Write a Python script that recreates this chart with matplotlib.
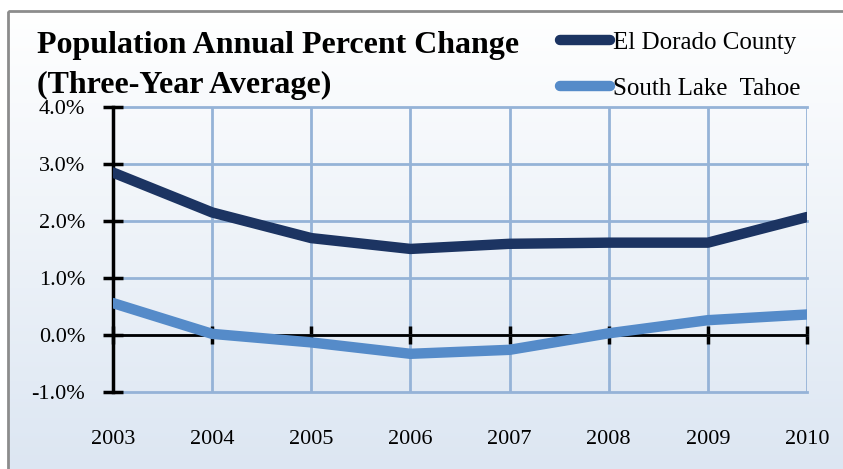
import numpy as np
import matplotlib.pyplot as plt
from matplotlib.patches import Rectangle

# Data (percent)
years = [2003, 2004, 2005, 2006, 2007, 2008, 2009, 2010]
el_dorado = [2.85, 2.15, 1.70, 1.51, 1.60, 1.62, 1.62, 2.07]
south_lake = [0.56, 0.02, -0.13, -0.33, -0.26, 0.03, 0.26, 0.36]
yticks = [-1, 0, 1, 2, 3, 4]

plt.rcParams['font.family'] = ['Liberation Serif', 'DejaVu Serif']

W, H = 843, 469
fig = plt.figure(figsize=(W / 100, H / 100), dpi=100)

# background: white -> pale blue gradient inside a grey frame
bg = fig.add_axes([0, 0, 1, 1], zorder=-10)
bg.set_xlim(0, W)
bg.set_ylim(H, 0)
bg.axis('off')
grad = np.linspace(0, 1, 256).reshape(-1, 1)
top = np.array([1.0, 1.0, 1.0])
bot = np.array([0xdc, 0xe6, 0xf2]) / 255
img = top + (bot - top) * grad[..., None]
bg.imshow(img, extent=(8, W + 5, H + 5, 11), aspect='auto', interpolation='bilinear')
bg.add_patch(Rectangle((8, 11), W, H, fill=False, edgecolor='#8c8c8c', lw=2))

ax = fig.add_axes([113 / W, 1 - 392 / H, (807 - 113) / W, (392 - 107) / H])
ax.patch.set_alpha(0)

ax.plot(years, el_dorado, color='#1c3462', lw=7.5, solid_capstyle='round',
        solid_joinstyle='round', label='El Dorado County', zorder=4)
ax.plot(years, south_lake, color='#558bc9', lw=7.5, solid_capstyle='round',
        solid_joinstyle='round', label='South Lake  Tahoe', zorder=3)

ax.set_xlim(2003, 2010)
ax.set_ylim(-1, 4)
ax.set_xticks(years)
ax.set_yticks(yticks)
ax.set_yticklabels([f'{v:.1f}%' for v in yticks])

ax.grid(True, color='#95b3d7', lw=2)
ax.set_axisbelow(True)
for gl in ax.get_xgridlines() + ax.get_ygridlines():
    gl.set_clip_on(False)

for s in ['top', 'right']:
    ax.spines[s].set_visible(False)
ax.spines['bottom'].set_position(('data', 0))
ax.spines['bottom'].set_linewidth(2)
ax.spines['bottom'].set_zorder(2.5)
ax.spines['left'].set_linewidth(2.5)

ax.tick_params(axis='y', direction='inout', length=14, width=2.5, labelsize=16, pad=13)
ax.tick_params(axis='x', direction='inout', length=13, width=2.5, labelsize=16, pad=62)

fig.text(37 / W, 1 - 53 / H, 'Population Annual Percent Change', fontsize=23,
         fontweight='bold', va='baseline', ha='left')
fig.text(37 / W, 1 - 93 / H, '(Three-Year Average)', fontsize=23,
         fontweight='bold', va='baseline', ha='left')

fig.legend(loc='upper left', bbox_to_anchor=(537 / W, 1 - 9 / H), frameon=False,
           fontsize=18, handlelength=2.0, handletextpad=0.15, labelspacing=0.95)

fig.savefig('out.png', dpi=100)
